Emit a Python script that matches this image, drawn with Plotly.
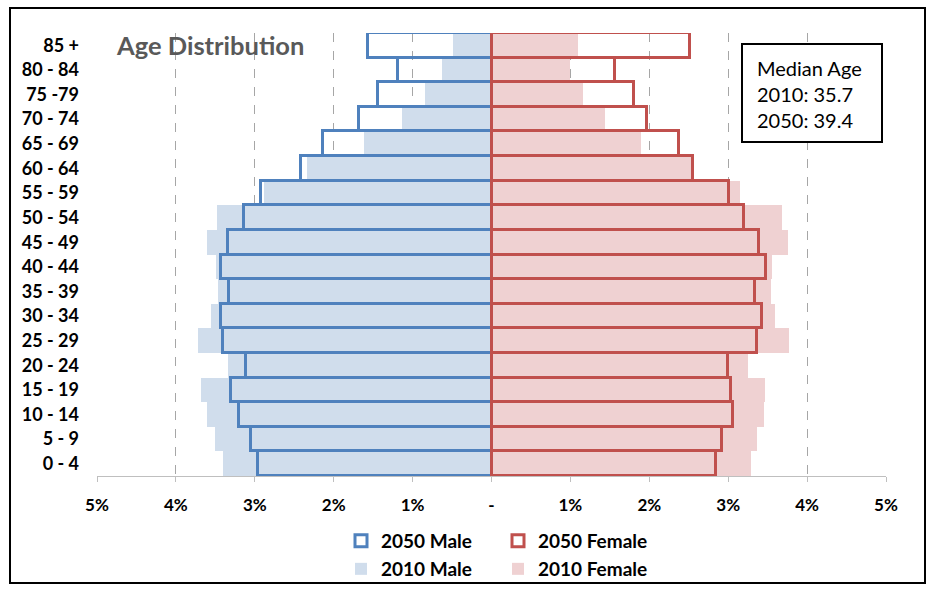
import plotly.graph_objects as go

age_groups = ["0 - 4", "5 - 9", "10 - 14", "15 - 19", "20 - 24", "25 - 29", "30 - 34",
              "35 - 39", "40 - 44", "45 - 49", "50 - 54", "55 - 59", "60 - 64", "65 - 69",
              "70 - 74", "75 -79", "80 - 84", "85 +"]

male_2050 = [2.96, 3.05, 3.20, 3.30, 3.11, 3.40, 3.43, 3.33, 3.43, 3.34, 3.14, 2.92,
             2.42, 2.14, 1.68, 1.44, 1.18, 1.56]
male_2010 = [3.40, 3.51, 3.61, 3.68, 3.34, 3.72, 3.56, 3.47, 3.49, 3.61, 3.48, 2.88,
             2.34, 1.61, 1.13, 0.84, 0.63, 0.49]
female_2050 = [2.85, 2.92, 3.06, 3.04, 3.00, 3.36, 3.43, 3.34, 3.48, 3.39, 3.20, 3.01,
               2.55, 2.38, 1.97, 1.80, 1.57, 2.52]
female_2010 = [3.29, 3.37, 3.46, 3.47, 3.25, 3.77, 3.59, 3.54, 3.56, 3.76, 3.68, 3.15,
               2.57, 1.89, 1.44, 1.16, 1.00, 1.10]

x_tick_vals = [-5, -4, -3, -2, -1, 0, 1, 2, 3, 4, 5]
x_tick_text = ["5%", "4%", "3%", "2%", "1%", "-", "1%", "2%", "3%", "4%", "5%"]

title_text = "Age Distribution"
median_text = "Median Age<br>2010: 35.7<br>2050: 39.4"

BLUE = "#4f81bd"
RED = "#c0504d"
LBLUE = "#d0ddec"
LRED = "#efd1d2"
FONT = "Lato"

fig = go.Figure()
fig.add_trace(go.Bar(y=age_groups, x=[-v for v in male_2010], base=0, orientation="h",
                     name="2010 Male", marker=dict(color=LBLUE, line=dict(width=0)),
                     legend="legend2"))
fig.add_trace(go.Bar(y=age_groups, x=female_2010, base=0, orientation="h",
                     name="2010 Female", marker=dict(color=LRED, line=dict(width=0)),
                     legend="legend2"))
fig.add_trace(go.Bar(y=age_groups, x=[-v for v in male_2050], base=0, orientation="h",
                     name="2050 Male",
                     marker=dict(color="rgba(0,0,0,0)", line=dict(color=BLUE, width=3)),
                     legend="legend"))
fig.add_trace(go.Bar(y=age_groups, x=female_2050, base=0, orientation="h",
                     name="2050 Female",
                     marker=dict(color="rgba(0,0,0,0)", line=dict(color=RED, width=3)),
                     legend="legend"))

W, H = 932, 592
L, R, T, B = 97, 46, 33, 116
pw, ph = W - L - R, H - T - B


def px(x):
    return (x - L) / pw


def py(y):
    return (H - B - y) / ph


legend_common = dict(orientation="h", xanchor="left", yanchor="middle",
                     font=dict(family=FONT, size=19, color="#000000", weight="bold"),
                     entrywidth=112, entrywidthmode="pixels", bgcolor="rgba(0,0,0,0)",
                     traceorder="normal")

fig.update_layout(
    width=W, height=H,
    margin=dict(l=L, r=R, t=T, b=B, autoexpand=False),
    paper_bgcolor="white", plot_bgcolor="white",
    barmode="overlay", bargap=0,
    font=dict(family=FONT, color="#000000"),
    showlegend=True,
    legend=dict(x=px(341), y=py(541), **legend_common),
    legend2=dict(x=px(341), y=py(569), **legend_common),
    xaxis=dict(range=[-5, 5], tickvals=x_tick_vals, ticktext=x_tick_text,
               showgrid=True, gridcolor="#a6a6a6", griddash="dash", gridwidth=1,
               zeroline=False, showline=True, linecolor="#bfbfbf", linewidth=1,
               ticks="outside", ticklen=5, tickcolor="#bfbfbf",
               tickfont=dict(family=FONT, size=17, color="#000000", weight="bold"),
               ticklabelstandoff=9, fixedrange=True, automargin=False),
    yaxis=dict(showgrid=False, zeroline=False, showline=False, ticks="",
               tickfont=dict(family=FONT, size=18, color="#000000", weight="bold"),
               ticklabelstandoff=17, categoryorder="array", categoryarray=age_groups,
               fixedrange=True, automargin=False),
    shapes=[
        dict(type="rect", xref="paper", yref="paper", x0=px(10), x1=px(925), y0=py(583), y1=py(8),
             line=dict(color="#000000", width=2), fillcolor="rgba(0,0,0,0)", layer="above"),
        dict(type="rect", xref="paper", yref="paper", x0=px(742), x1=px(882), y0=py(142), y1=py(44),
             line=dict(color="#000000", width=2), fillcolor="white", layer="above"),
    ],
    annotations=[
        dict(text=title_text, xref="paper", yref="paper", x=px(114), y=py(45),
             xanchor="left", yanchor="middle", showarrow=False,
             font=dict(family=FONT, size=25.5, color="#595959", weight="bold")),
        dict(text=median_text, xref="paper", yref="paper", x=px(755), y=py(94),
             xanchor="left", yanchor="middle", showarrow=False, align="left",
             font=dict(family=FONT, size=20, color="#000000")),
    ],
)

fig.write_html("out.html")
